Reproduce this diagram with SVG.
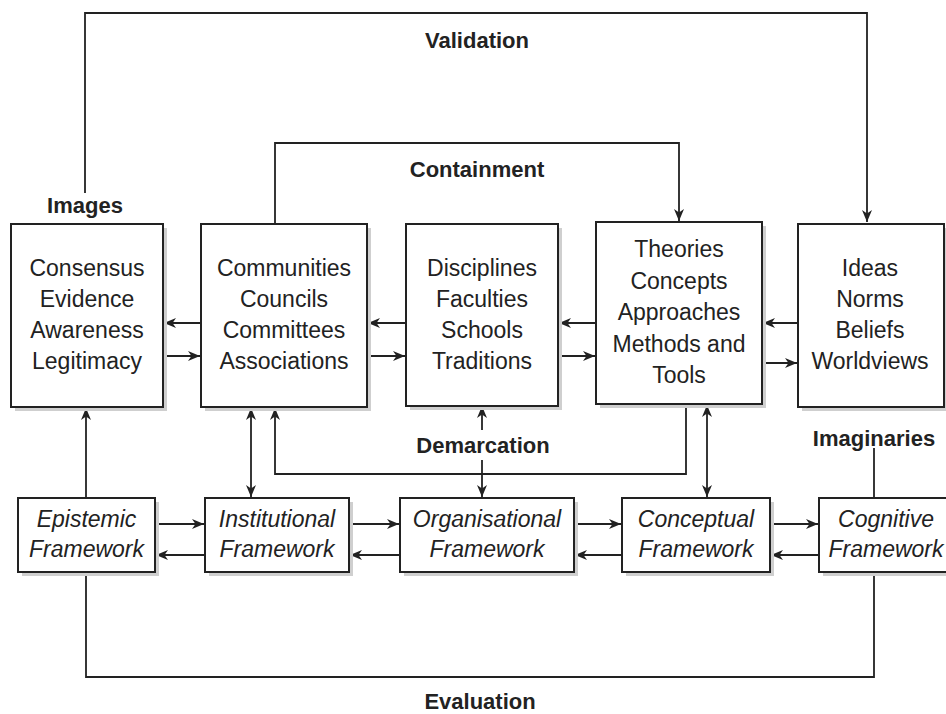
<svg xmlns="http://www.w3.org/2000/svg" width="946" height="714" viewBox="0 0 946 714">
<style>
.box{fill:#fff;stroke:#222;stroke-width:2}
.sh{fill:#cfcfcf}
.t{font-family:"Liberation Sans",Arial,Helvetica,sans-serif;font-size:23px;fill:#222;text-anchor:middle}
.it{font-style:italic}
.lb{font-family:"Liberation Sans",Arial,Helvetica,sans-serif;font-size:22px;font-weight:bold;fill:#222;text-anchor:middle}
.c{fill:none;stroke:#222;stroke-width:1.8}
.a{marker-end:url(#ah)}
.aa{marker-end:url(#ah);marker-start:url(#ah)}
</style>
<defs>
<marker id="ah" viewBox="0 0 12 10" refX="12" refY="5" markerWidth="12" markerHeight="10" markerUnits="userSpaceOnUse" orient="auto-start-reverse">
<path d="M0,0 L12,5 L0,10 L3.5,5 z" fill="#222"/>
</marker>
</defs>
<rect width="946" height="714" fill="#fff"/>

<g id="connectors">
<path class="c a" d="M85,193 V13 H867 V222"/>
<path class="c a" d="M275,224 V143 H679 V221"/>
<path class="c a" d="M201,323 H164"/>
<path class="c a" d="M163,356 H200"/>
<path class="c a" d="M406,323 H368"/>
<path class="c a" d="M367,356 H405"/>
<path class="c a" d="M596,323 H559"/>
<path class="c a" d="M558,356 H595"/>
<path class="c a" d="M798,323 H763"/>
<path class="c a" d="M759,363 H797"/>
<path class="c a" d="M86,498 V408"/>
<path class="c aa" d="M251,408 V497"/>
<path class="c a" d="M686,405 V474 H275 V408"/>
<path class="c a" d="M482,430 V406"/>
<path class="c a" d="M482,460 V497"/>
<path class="c aa" d="M707,405 V497"/>
<path class="c" d="M874,448 V498"/>
<path class="c" d="M874,572 V677 H86 V572"/>
<path class="c a" d="M155,524 H204"/>
<path class="c a" d="M205,555 H156"/>
<path class="c a" d="M349,524 H399"/>
<path class="c a" d="M400,555 H350"/>
<path class="c a" d="M574,524 H621"/>
<path class="c a" d="M622,555 H575"/>
<path class="c a" d="M770,524 H818"/>
<path class="c a" d="M819,555 H771"/>
</g>

<g id="labels">
<text class="lb" x="477" y="48">Validation</text>
<text class="lb" x="477" y="177">Containment</text>
<text class="lb" x="85" y="213">Images</text>
<text class="lb" x="483" y="453">Demarcation</text>
<text class="lb" x="874" y="446">Imaginaries</text>
<text class="lb" x="480" y="709">Evaluation</text>
</g>

<g id="images">
<rect class="sh" x="15" y="228" width="152" height="183"/>
<rect class="box" x="11" y="224" width="152" height="183"/>
<text class="t" x="87" y="276">Consensus</text>
<text class="t" x="87" y="307">Evidence</text>
<text class="t" x="87" y="338">Awareness</text>
<text class="t" x="87" y="369">Legitimacy</text>
</g>

<g id="communities">
<rect class="sh" x="205" y="228" width="166" height="183"/>
<rect class="box" x="201" y="224" width="166" height="183"/>
<text class="t" x="284" y="276">Communities</text>
<text class="t" x="284" y="307">Councils</text>
<text class="t" x="284" y="338">Committees</text>
<text class="t" x="284" y="369">Associations</text>
</g>

<g id="disciplines">
<rect class="sh" x="410" y="228" width="152" height="182"/>
<rect class="box" x="406" y="224" width="152" height="182"/>
<text class="t" x="482" y="276">Disciplines</text>
<text class="t" x="482" y="307">Faculties</text>
<text class="t" x="482" y="338">Schools</text>
<text class="t" x="482" y="369">Traditions</text>
</g>

<g id="theories">
<rect class="sh" x="600" y="226" width="166" height="182"/>
<rect class="box" x="596" y="222" width="166" height="182"/>
<text class="t" x="679" y="257">Theories</text>
<text class="t" x="679" y="289">Concepts</text>
<text class="t" x="679" y="320">Approaches</text>
<text class="t" x="679" y="352">Methods and</text>
<text class="t" x="679" y="383">Tools</text>
</g>

<g id="ideas">
<rect class="sh" x="802" y="228" width="146" height="183"/>
<rect class="box" x="798" y="224" width="146" height="183"/>
<text class="t" x="870" y="276">Ideas</text>
<text class="t" x="870" y="307">Norms</text>
<text class="t" x="870" y="338">Beliefs</text>
<text class="t" x="870" y="369">Worldviews</text>
</g>

<g id="epistemic">
<rect class="sh" x="22" y="502" width="137" height="74"/>
<rect class="box" x="18" y="498" width="137" height="74"/>
<text class="t it" x="86.5" y="527">Epistemic</text>
<text class="t it" x="86.5" y="557">Framework</text>
</g>

<g id="institutional">
<rect class="sh" x="209" y="502" width="144" height="74"/>
<rect class="box" x="205" y="498" width="144" height="74"/>
<text class="t it" x="277" y="527">Institutional</text>
<text class="t it" x="277" y="557">Framework</text>
</g>

<g id="organisational">
<rect class="sh" x="404" y="502" width="174" height="74"/>
<rect class="box" x="400" y="498" width="174" height="74"/>
<text class="t it" x="487" y="527">Organisational</text>
<text class="t it" x="487" y="557">Framework</text>
</g>

<g id="conceptual">
<rect class="sh" x="626" y="502" width="148" height="74"/>
<rect class="box" x="622" y="498" width="148" height="74"/>
<text class="t it" x="696" y="527">Conceptual</text>
<text class="t it" x="696" y="557">Framework</text>
</g>

<g id="cognitive">
<rect class="sh" x="823" y="502" width="134" height="74"/>
<rect class="box" x="819" y="498" width="134" height="74"/>
<text class="t it" x="886" y="527">Cognitive</text>
<text class="t it" x="886" y="557">Framework</text>
</g>
</svg>
